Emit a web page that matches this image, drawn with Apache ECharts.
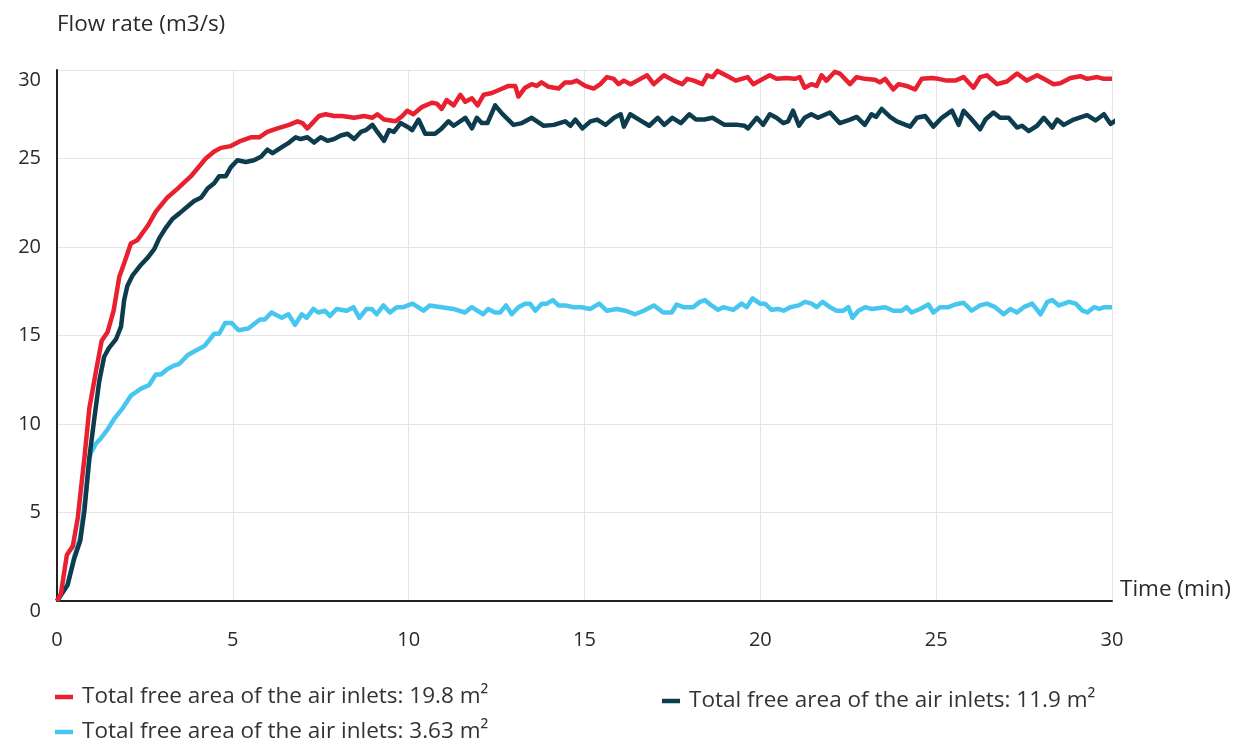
<!DOCTYPE html>
<html>
<head>
<meta charset="utf-8">
<script src="https://cdn.jsdelivr.net/npm/echarts@6/dist/echarts.min.js"></script>
<style>html,body{margin:0;padding:0;background:#fff}#c{width:1241px;height:744px}</style>
</head>
<body>
<div id="c"></div>
<script>
const xTicks = [0, 5, 10, 15, 20, 25, 30];
const yTicks = [0, 5, 10, 15, 20, 25, 30];
const seriesNames = [
  'Total free area of the air inlets: 19.8 m²',
  'Total free area of the air inlets: 3.63 m²',
  'Total free area of the air inlets: 11.9 m²'
];
const red = [[0,0],[0.11,0.4],[0.28,2.6],[0.45,3.1],[0.59,4.7],[0.78,8.1],[0.92,10.9],[1.11,13.0],[1.27,14.7],[1.44,15.2],[1.61,16.4],[1.77,18.3],[1.93,19.2],[2.1,20.2],[2.29,20.4],[2.58,21.2],[2.81,22.0],[3.14,22.8],[3.43,23.3],[3.81,24.0],[4.23,25.0],[4.47,25.4],[4.66,25.6],[4.94,25.7],[5.23,26.0],[5.51,26.2],[5.75,26.2],[5.98,26.5],[6.27,26.7],[6.6,26.9],[6.84,27.1],[6.98,27.0],[7.12,26.7],[7.26,27.0],[7.45,27.4],[7.64,27.5],[7.88,27.4],[8.11,27.4],[8.45,27.3],[8.73,27.4],[8.97,27.3],[9.11,27.5],[9.3,27.2],[9.63,27.1],[9.82,27.4],[9.96,27.7],[10.13,27.5],[10.37,27.9],[10.66,28.15],[10.8,28.1],[10.94,27.8],[11.08,28.3],[11.28,28.0],[11.47,28.6],[11.61,28.2],[11.8,28.4],[11.96,28.0],[12.13,28.6],[12.37,28.7],[12.6,28.9],[12.84,29.1],[13.03,29.1],[13.12,28.5],[13.31,29.0],[13.5,29.2],[13.64,29.1],[13.78,29.3],[13.98,29.05],[14.26,28.95],[14.45,29.3],[14.64,29.3],[14.78,29.4],[15.02,29.1],[15.26,28.95],[15.45,29.2],[15.64,29.6],[15.83,29.5],[15.97,29.2],[16.12,29.4],[16.31,29.2],[16.5,29.4],[16.78,29.7],[16.97,29.2],[17.26,29.7],[17.54,29.4],[17.78,29.2],[17.92,29.5],[18.11,29.4],[18.35,29.2],[18.49,29.7],[18.64,29.6],[18.78,29.95],[19.02,29.7],[19.3,29.4],[19.64,29.6],[19.8,29.2],[20.08,29.5],[20.27,29.7],[20.46,29.5],[20.75,29.55],[20.98,29.5],[21.12,29.6],[21.26,29.0],[21.45,29.2],[21.6,29.1],[21.74,29.7],[21.88,29.4],[22.12,29.9],[22.26,29.8],[22.55,29.2],[22.74,29.6],[22.97,29.5],[23.26,29.45],[23.4,29.3],[23.55,29.5],[23.78,28.9],[23.93,29.2],[24.16,29.1],[24.4,28.9],[24.59,29.5],[24.87,29.55],[25.06,29.5],[25.3,29.4],[25.54,29.4],[25.78,29.6],[26.06,29.0],[26.25,29.6],[26.44,29.7],[26.73,29.2],[27.01,29.35],[27.3,29.8],[27.58,29.4],[27.87,29.7],[28.06,29.5],[28.34,29.2],[28.53,29.25],[28.82,29.55],[29.1,29.65],[29.29,29.5],[29.58,29.6],[29.77,29.5],[30,29.5]];
const dark = [[0,0],[0.3,0.9],[0.49,2.4],[0.66,3.4],[0.78,5.1],[0.92,8.1],[1.06,10.3],[1.2,12.4],[1.34,13.8],[1.48,14.3],[1.68,14.8],[1.82,15.5],[1.91,17.0],[2.0,17.8],[2.15,18.4],[2.39,19.0],[2.58,19.4],[2.77,19.9],[2.91,20.5],[3.1,21.1],[3.29,21.6],[3.48,21.9],[3.72,22.3],[3.9,22.6],[4.1,22.8],[4.28,23.3],[4.47,23.6],[4.61,24.0],[4.8,24.0],[4.94,24.5],[5.13,24.9],[5.37,24.8],[5.6,24.9],[5.8,25.1],[5.98,25.5],[6.13,25.3],[6.36,25.6],[6.6,25.9],[6.79,26.2],[6.93,26.1],[7.12,26.2],[7.31,25.9],[7.5,26.2],[7.69,26.0],[7.88,26.1],[8.07,26.3],[8.26,26.4],[8.45,26.1],[8.64,26.5],[8.78,26.6],[8.97,26.9],[9.11,26.5],[9.3,26.0],[9.44,26.6],[9.58,26.5],[9.77,27.0],[9.96,26.8],[10.1,26.6],[10.28,27.2],[10.47,26.4],[10.75,26.4],[10.94,26.7],[11.13,27.1],[11.28,26.85],[11.61,27.3],[11.8,26.7],[11.94,27.3],[12.08,27.0],[12.24,27.0],[12.46,28.0],[12.65,27.55],[12.98,26.9],[13.22,27.0],[13.5,27.3],[13.84,26.85],[14.13,26.9],[14.45,27.1],[14.6,26.85],[14.74,27.2],[14.94,26.7],[15.17,27.1],[15.36,27.2],[15.6,26.9],[15.84,27.3],[16.03,27.5],[16.12,26.8],[16.3,27.5],[16.55,27.2],[16.84,26.85],[17.08,27.3],[17.27,26.9],[17.5,27.3],[17.74,27.0],[17.98,27.5],[18.17,27.2],[18.41,27.2],[18.64,27.3],[18.98,26.9],[19.36,26.9],[19.55,26.85],[19.65,26.7],[19.9,27.3],[20.08,26.9],[20.27,27.5],[20.46,27.3],[20.65,27.0],[20.79,27.1],[20.93,27.7],[21.1,26.85],[21.26,27.3],[21.45,27.5],[21.64,27.3],[21.98,27.6],[22.26,27.0],[22.55,27.2],[22.74,27.35],[22.97,26.9],[23.16,27.5],[23.29,27.35],[23.45,27.8],[23.69,27.35],[23.88,27.1],[24.26,26.8],[24.45,27.3],[24.69,27.4],[24.92,26.8],[25.16,27.3],[25.45,27.7],[25.64,26.9],[25.78,27.7],[25.97,27.3],[26.25,26.65],[26.4,27.2],[26.63,27.6],[26.82,27.3],[27.06,27.3],[27.3,26.75],[27.44,26.85],[27.63,26.55],[27.87,26.85],[28.06,27.3],[28.3,26.75],[28.44,27.2],[28.63,26.9],[28.91,27.2],[29.29,27.45],[29.53,27.15],[29.77,27.5],[29.96,26.95],[30.15,27.2]];
const light = [[0,0],[0.3,0.9],[0.49,2.5],[0.66,3.6],[0.8,5.8],[0.92,8.0],[0.97,8.4],[1.11,8.9],[1.25,9.2],[1.44,9.7],[1.63,10.3],[1.87,10.9],[2.1,11.6],[2.39,12.0],[2.62,12.2],[2.81,12.8],[2.95,12.8],[3.14,13.1],[3.33,13.3],[3.48,13.4],[3.72,13.9],[3.9,14.1],[4.19,14.4],[4.47,15.1],[4.61,15.1],[4.78,15.7],[4.97,15.7],[5.16,15.3],[5.44,15.4],[5.77,15.9],[5.91,15.9],[6.1,16.3],[6.39,16.0],[6.58,16.2],[6.77,15.6],[6.96,16.2],[7.1,16.0],[7.29,16.5],[7.43,16.3],[7.62,16.4],[7.76,16.1],[7.95,16.5],[8.24,16.4],[8.43,16.6],[8.6,16.0],[8.8,16.5],[8.95,16.5],[9.09,16.2],[9.28,16.7],[9.47,16.3],[9.66,16.6],[9.85,16.6],[10.11,16.8],[10.42,16.4],[10.6,16.7],[10.94,16.6],[11.27,16.5],[11.6,16.3],[11.79,16.6],[12.12,16.2],[12.26,16.5],[12.45,16.3],[12.6,16.3],[12.77,16.7],[12.93,16.2],[13.12,16.6],[13.31,16.8],[13.45,16.8],[13.6,16.4],[13.79,16.8],[13.93,16.8],[14.1,17.0],[14.26,16.7],[14.45,16.7],[14.69,16.6],[14.92,16.6],[15.16,16.5],[15.42,16.8],[15.63,16.4],[15.92,16.5],[16.16,16.4],[16.44,16.2],[16.68,16.4],[16.97,16.7],[17.24,16.3],[17.48,16.3],[17.62,16.75],[17.81,16.6],[18.09,16.6],[18.28,16.9],[18.42,17.0],[18.61,16.7],[18.8,16.45],[18.95,16.6],[19.23,16.45],[19.47,16.8],[19.61,16.6],[19.78,17.1],[19.99,16.8],[20.13,16.8],[20.32,16.45],[20.51,16.5],[20.66,16.4],[20.85,16.6],[21.09,16.7],[21.27,16.9],[21.46,16.8],[21.6,16.6],[21.77,16.9],[21.98,16.6],[22.17,16.4],[22.36,16.4],[22.5,16.6],[22.62,16.0],[22.79,16.4],[22.98,16.6],[23.17,16.5],[23.54,16.6],[23.78,16.4],[24.02,16.4],[24.16,16.6],[24.3,16.3],[24.54,16.5],[24.78,16.75],[24.92,16.3],[25.11,16.6],[25.35,16.6],[25.54,16.75],[25.78,16.85],[26.01,16.4],[26.25,16.7],[26.44,16.8],[26.68,16.6],[26.92,16.2],[27.11,16.5],[27.3,16.3],[27.49,16.6],[27.73,16.8],[27.97,16.2],[28.16,16.9],[28.3,17.0],[28.49,16.7],[28.78,16.9],[28.97,16.8],[29.16,16.4],[29.3,16.3],[29.49,16.6],[29.64,16.5],[29.78,16.6],[30,16.6]];

const colors = { red: '#e8202f', light: '#47c7f0', dark: '#0c3c4d' };
const font = '"Open Sans", "Noto Sans", sans-serif';
const txt = '#2a2a2a';

const chart = echarts.init(document.getElementById('c'), null, { renderer: 'canvas' });
function legendText(extraPad) {
  return { fontFamily: font, fontSize: 22.5, lineHeight: 24, color: '#333', padding: [0, 0, extraPad, 4] };
}
const legendBase = {
  orient: 'horizontal', icon: 'rect', itemWidth: 18, itemHeight: 4.5, itemGap: 10,
  selectedMode: false, padding: 0
};
chart.setOption({
  animation: false,
  backgroundColor: '#fff',
  grid: { left: 57, right: 129, top: 70, bottom: 143, containLabel: false, outerBoundsMode: 'none' },
  legend: [
    Object.assign({}, legendBase, { data: [seriesNames[0]], left: 55, top: 679, textStyle: legendText(12) }),
    Object.assign({}, legendBase, { data: [seriesNames[1]], left: 55, top: 720, textStyle: legendText(0) }),
    Object.assign({}, legendBase, { data: [seriesNames[2]], left: 662, top: 689, textStyle: legendText(0) })
  ],
  xAxis: {
    type: 'value', min: xTicks[0], max: xTicks[xTicks.length - 1], interval: 5,
    name: 'Time (min)', nameLocation: 'end', nameGap: 8,
    nameTextStyle: { fontFamily: font, fontSize: 22.5, color: txt, align: 'left', verticalAlign: 'bottom', padding: [0, 0, 0, 0] },
    axisLine: { show: true, onZero: false, lineStyle: { color: '#222', width: 2 } },
    axisTick: { show: false },
    axisLabel: { fontFamily: font, fontSize: 20, color: txt, margin: 29 },
    splitLine: { show: true, lineStyle: { color: '#e4e4e4', width: 1 } }
  },
  yAxis: {
    type: 'value', min: yTicks[0], max: yTicks[yTicks.length - 1], interval: 5,
    name: 'Flow rate (m3/s)', nameLocation: 'end', nameGap: 45,
    nameTextStyle: { fontFamily: font, fontSize: 22.5, color: txt, align: 'left', verticalAlign: 'middle' },
    axisLine: { show: true, onZero: false, lineStyle: { color: '#222', width: 2 } },
    axisTick: { show: false },
    axisLabel: { fontFamily: font, fontSize: 20, color: txt, margin: 16, verticalAlignMinLabel: 'top', verticalAlignMaxLabel: 'top' },
    splitLine: { show: true, lineStyle: { color: '#e4e4e4', width: 1 } }
  },
  series: [
    { name: seriesNames[1], type: 'line', data: light, showSymbol: false, symbol: 'none', clip: false,
      lineStyle: { color: colors.light, width: 4.5, join: 'round' }, itemStyle: { color: colors.light }, z: 2 },
    { name: seriesNames[2], type: 'line', data: dark, showSymbol: false, symbol: 'none', clip: false,
      lineStyle: { color: colors.dark, width: 4.5, join: 'round' }, itemStyle: { color: colors.dark }, z: 3 },
    { name: seriesNames[0], type: 'line', data: red, showSymbol: false, symbol: 'none', clip: false,
      lineStyle: { color: colors.red, width: 4.5, join: 'round' }, itemStyle: { color: colors.red }, z: 4 }
  ]
});
</script>
</body>
</html>
